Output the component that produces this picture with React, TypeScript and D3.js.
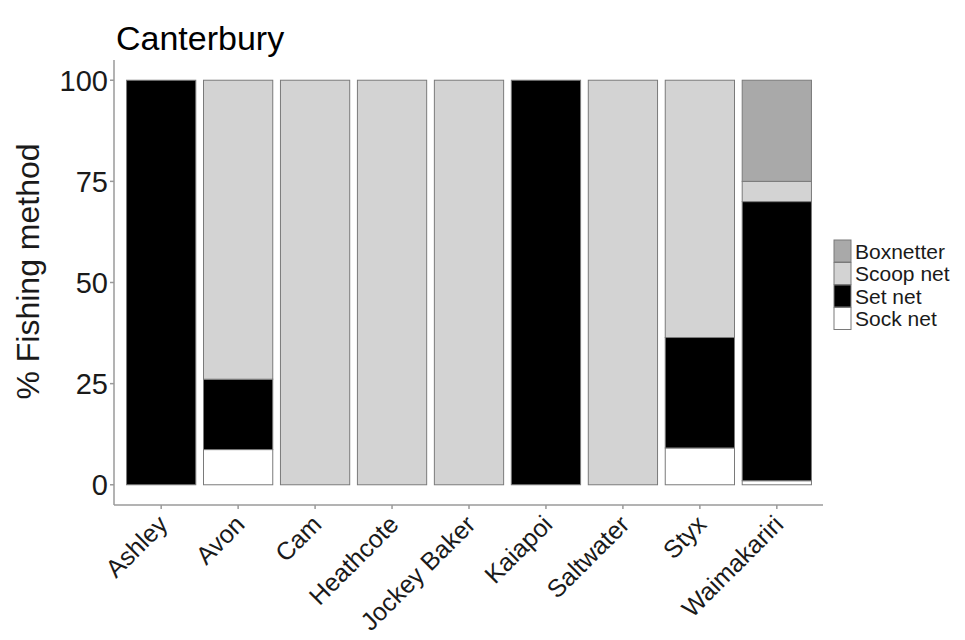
import React from "react";
import * as d3 from "d3";

const rivers = ["Ashley", "Avon", "Cam", "Heathcote", "Jockey Baker", "Kaiapoi", "Saltwater", "Styx", "Waimakariri"];
const methods = ["Sock net", "Set net", "Scoop net", "Boxnetter"];
const sockNet = [0, 8.7, 0, 0, 0, 0, 0, 9.1, 1];
const setNet = [100, 17.4, 0, 0, 0, 100, 0, 27.3, 69];
const scoopNet = [0, 73.9, 100, 100, 100, 0, 100, 63.6, 5];
const boxnetter = [0, 0, 0, 0, 0, 0, 0, 0, 25];
const yTicks = [0, 25, 50, 75, 100];
const legendOrder = ["Boxnetter", "Scoop net", "Set net", "Sock net"];
const fills: Record<string, string> = {
  "Sock net": "#ffffff",
  "Set net": "#000000",
  "Scoop net": "#d3d3d3",
  "Boxnetter": "#a9a9a9",
};

const FONT = "'Liberation Sans', Arial, sans-serif";

export default function App() {
  const W = 965, H = 640;
  const left = 115, right = 823, top = 60, bottom = 505;
  const data = rivers.map((r, i) => ({
    river: r,
    "Sock net": sockNet[i],
    "Set net": setNet[i],
    "Scoop net": scoopNet[i],
    "Boxnetter": boxnetter[i],
  }));
  const stack = d3.stack<any>().keys(methods)(data);
  const x = d3.scaleBand<string>().domain(rivers).range([left, right]).paddingInner(0.1).paddingOuter(0.15);
  const y = d3.scaleLinear().domain([-5, 105]).range([bottom, top]);
  const axisColor = "#9a9a9a";

  return (
    <svg width={W} height={H} style={{ position: "absolute", left: 0, top: 0, background: "#fff" }} fontFamily={FONT}>
      <rect x={0} y={0} width={W} height={H} fill="#fff" />
      <text x={116} y={50} fontSize={34} fill="#000">Canterbury</text>
      {stack.map((layer) =>
        layer.map((d, i) => {
          const h = y(d[0]) - y(d[1]);
          if (h <= 0) return null;
          return (
            <rect
              key={layer.key + i}
              x={x(rivers[i])}
              y={y(d[1])}
              width={x.bandwidth()}
              height={h}
              fill={fills[layer.key]}
              stroke="#7a7a7a"
              strokeWidth={1}
            />
          );
        })
      )}
      <line x1={left - 1} x2={left - 1} y1={top} y2={bottom} stroke={axisColor} strokeWidth={1.5} />
      <line x1={left - 1} x2={right} y1={bottom} y2={bottom} stroke={axisColor} strokeWidth={1.5} />
      {yTicks.map((t) => (
        <g key={t}>
          <line x1={left - 5} x2={left - 1} y1={y(t)} y2={y(t)} stroke={axisColor} strokeWidth={1.5} />
          <text x={108} y={y(t)} dy="0.36em" textAnchor="end" fontSize={29} fill="#1a1a1a">{t}</text>
        </g>
      ))}
      {rivers.map((r) => {
        const cx = (x(r) as number) + x.bandwidth() / 2;
        return (
          <g key={r}>
            <line x1={cx} x2={cx} y1={bottom} y2={bottom + 4} stroke={axisColor} strokeWidth={1.5} />
            <text
              transform={`translate(${cx + 8},${bottom + 21}) rotate(-45)`}
              textAnchor="end"
              fontSize={25}
              fill="#1a1a1a"
            >
              {r}
            </text>
          </g>
        );
      })}
      <text transform={`translate(39,${(top + bottom) / 2 - 11}) rotate(-90)`} textAnchor="middle" fontSize={32} fill="#1a1a1a">
        % Fishing method
      </text>
      {legendOrder.map((m, i) => (
        <g key={m}>
          <rect x={834} y={240 + i * 22.5} width={17} height={22} fill={fills[m]} stroke="#7a7a7a" strokeWidth={1} />
          <text x={855} y={240 + i * 22.5 + 11} dy="0.36em" fontSize={21} fill="#1a1a1a">{m}</text>
        </g>
      ))}
    </svg>
  );
}
